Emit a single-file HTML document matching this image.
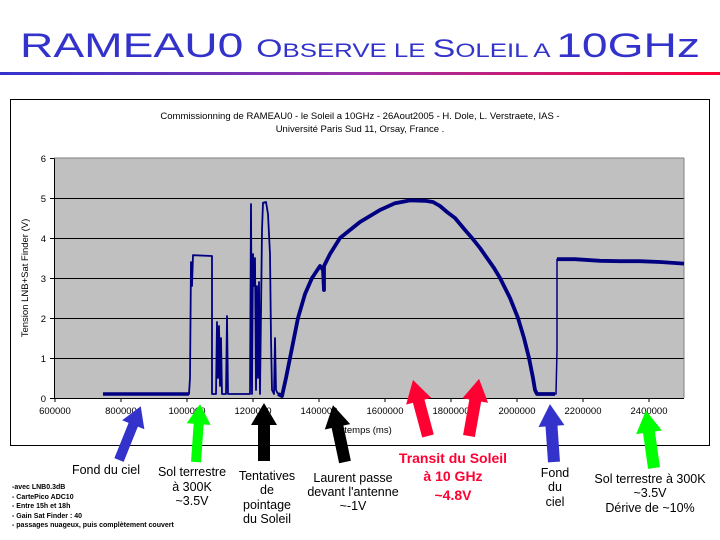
<!DOCTYPE html>
<html><head><meta charset="utf-8"><style>
html,body{margin:0;padding:0;background:#fff;}
body{width:720px;height:540px;position:relative;overflow:hidden;font-family:"Liberation Sans",sans-serif;}
</style></head><body>
<svg width="720" height="540" viewBox="0 0 720 540" xmlns="http://www.w3.org/2000/svg" style="position:absolute;left:0;top:0">
<defs>
<linearGradient id="g" x1="0" x2="1" y1="0" y2="0"><stop offset="0" stop-color="#3333cc"/><stop offset="0.5" stop-color="#9933aa"/><stop offset="1" stop-color="#ff0033"/></linearGradient>
</defs>
<text x="20" y="57" font-family="Liberation Sans" font-size="34" fill="#3333cc" textLength="680" lengthAdjust="spacingAndGlyphs">RAMEAU0 <tspan font-size="25">O</tspan><tspan font-size="19">BSERVE LE </tspan><tspan font-size="25">S</tspan><tspan font-size="19">OLEIL A </tspan>10GHz</text>
<rect x="0" y="72" width="720" height="3" fill="url(#g)"/>
<rect x="10.5" y="99.5" width="699" height="346" fill="#fff" stroke="#000" stroke-width="1"/>
<text x="360" y="119" font-size="9.5" text-anchor="middle">Commissionning de RAMEAU0 - le Soleil a 10GHz - 26Aout2005 - H. Dole, L. Verstraete, IAS -</text>
<text x="360" y="132" font-size="9.5" text-anchor="middle">Université Paris Sud 11, Orsay, France .</text>
<rect x="54" y="158" width="630" height="240" fill="#c0c0c0"/>
<g stroke="#000" stroke-width="1">
<line x1="54" y1="198.5" x2="684" y2="198.5"/><line x1="54" y1="238.5" x2="684" y2="238.5"/><line x1="54" y1="278.5" x2="684" y2="278.5"/><line x1="54" y1="318.5" x2="684" y2="318.5"/><line x1="54" y1="358.5" x2="684" y2="358.5"/>
<line x1="54.5" y1="158" x2="54.5" y2="398"/><line x1="54" y1="398.5" x2="684" y2="398.5"/>
</g>
<line x1="684" y1="158" x2="684" y2="398" stroke="#808080"/>
<line x1="54" y1="158" x2="684" y2="158" stroke="#808080"/>
<g stroke="#000" id="ticks"></g>
<g font-size="9.5" text-anchor="end">
<text x="46" y="162">6</text><text x="46" y="202">5</text><text x="46" y="242">4</text><text x="46" y="282">3</text><text x="46" y="322">2</text><text x="46" y="362">1</text><text x="46" y="402">0</text>
</g>
<g font-size="9.5" text-anchor="middle">
<text x="55" y="414">600000</text><text x="121" y="414">800000</text><text x="187" y="414">1000000</text><text x="253" y="414">1200000</text><text x="319" y="414">1400000</text><text x="385" y="414">1600000</text><text x="451" y="414">1800000</text><text x="517" y="414">2000000</text><text x="583" y="414">2200000</text><text x="649" y="414">2400000</text>
<text x="368" y="433">temps (ms)</text>
</g>
<text transform="translate(28,278) rotate(-90)" font-size="9.5" text-anchor="middle">Tension LNB+Sat Finder (V)</text>
<g id="data" fill="none" stroke="#000080" stroke-linejoin="round"></g>
<g>
<polygon points="-5,0 5,0 5,-38 12,-38 0,-58 -12,-38 -5,-38" fill="#3333cc" transform="translate(119,460) rotate(22)"/>
<polygon points="-5,0 5,0 5,-38 12,-38 0,-58 -12,-38 -5,-38" fill="#00ff00" transform="translate(196,462) rotate(4)"/>
<polygon points="-6,0 6,0 6,-36 13,-36 0,-58 -13,-36 -6,-36" fill="#000" transform="translate(264,461)"/>
<polygon points="-6,0 6,0 6,-36 13,-36 0,-58 -13,-36 -6,-36" fill="#000" transform="translate(345,462) rotate(-12)"/>
<polygon points="-6,0 6,0 6,-36 13,-36 0,-58 -13,-36 -6,-36" fill="#ff0033" transform="translate(428,436) rotate(-15)"/>
<polygon points="-6,0 6,0 6,-36 13,-36 0,-58 -13,-36 -6,-36" fill="#ff0033" transform="translate(469,436) rotate(10)"/>
<polygon points="-6,0 6,0 6,-36 13,-36 0,-58 -13,-36 -6,-36" fill="#3333cc" transform="translate(554,462) rotate(-4)"/>
<polygon points="-6,0 6,0 6,-36 13,-36 0,-58 -13,-36 -6,-36" fill="#00ff00" transform="translate(654,468) rotate(-8)"/>
</g>
<g font-size="12.5" text-anchor="middle" fill="#000">
<text x="106" y="474">Fond du ciel</text>
<text x="192" y="476">Sol terrestre</text><text x="192" y="491">à 300K</text><text x="192" y="505">~3.5V</text>
<text x="267" y="480">Tentatives</text><text x="267" y="494">de</text><text x="267" y="509">pointage</text><text x="267" y="523">du Soleil</text>
<text x="353" y="482">Laurent passe</text><text x="353" y="496">devant l'antenne</text><text x="353" y="510">~-1V</text>
<text x="555" y="477">Fond</text><text x="555" y="491">du</text><text x="555" y="506">ciel</text>
<text x="650" y="483">Sol terrestre à 300K</text><text x="650" y="497">~3.5V</text><text x="650" y="512">Dérive de ~10%</text>
</g>
<g font-size="14" font-weight="bold" text-anchor="middle" fill="#ff0033">
<text x="453" y="463">Transit du Soleil</text><text x="453" y="481">à 10 GHz</text><text x="453" y="500">~4.8V</text>
</g>
<g font-size="7" font-weight="bold" fill="#000">
<text x="12" y="489">-avec LNB0.3dB</text><text x="12" y="499">- CartePico ADC10</text><text x="12" y="508">- Entre 15h et 18h</text><text x="12" y="518">- Gain Sat Finder : 40</text><text x="12" y="527">- passages nuageux, puis complètement couvert</text>
</g>
</svg>
<script>
var t=document.getElementById('ticks'),s='';
for(var i=0;i<10;i++){var x=55+66*i;s+='<line x1="'+x+'" y1="398" x2="'+x+'" y2="402"/>';}
for(var v=0;v<=6;v++){var y=398.5-40*v;s+='<line x1="50" y1="'+y+'" x2="54" y2="'+y+'"/>';}
t.innerHTML=s;
function Y(v){return 398-40*v;}
var thin=[[103,0.1],[189,0.1],[190,0.5],[191,3.4],[192,2.8],[193,3.57],[212,3.55],[212,0.1],[216,0.1],[217,1.9],[218,0.5],[219,1.8],[220,0.3],[221,1.5],[222,0.1],[226,0.1],[227,2.05],[228,0.1],[250,0.1],[251,4.85],[252,0.1],[253,3.6],[254,2.8],[255,3.5],[256,0.2],[257,2.8],[258,0.5],[259,2.9],[260,0.1],[262,4.2],[263,4.88],[266,4.9],[268,4.6],[270,3.6],[271,1.5],[272,0.2],[274,0.1],[275,1.5],[276,0.2],[278,0.1]];
var thick=[[103,0.1],[189,0.1]];
var arc=[[278,0.1],[282,0.05],[286,0.5],[290,1],[298,2],[305,2.6],[312,3],[320,3.3],[323,3.2],[324,2.7],[324,3.3],[330,3.6],[340,4],[350,4.2],[360,4.4],[370,4.55],[380,4.7],[395,4.87],[410,4.94],[425,4.93],[433,4.9],[440,4.8],[447,4.65],[455,4.5],[465,4.2],[472,4],[480,3.75],[487,3.5],[494,3.25],[500,3],[505,2.75],[510,2.5],[514,2.25],[518,2],[521,1.75],[524,1.5],[527,1.2],[529,1],[531,0.75],[533,0.5],[535,0.2],[537,0.1],[555,0.1]];
var right=[[555,0.1],[556,0.1],[557,1.2],[557,3.47],[575,3.47],[600,3.43],[620,3.42],[640,3.42],[660,3.40],[684,3.36]];
function pl(a,w){return '<polyline stroke-width="'+w+'" points="'+a.map(function(p){return p[0]+','+Y(p[1]).toFixed(1);}).join(' ')+'"/>';}
document.getElementById('data').innerHTML=pl(thin,1.8)+pl(thick,3.5)+pl(arc,3.8)+pl(right,1.5)+pl(right.slice(3),3.8);
</script>
</body></html>
